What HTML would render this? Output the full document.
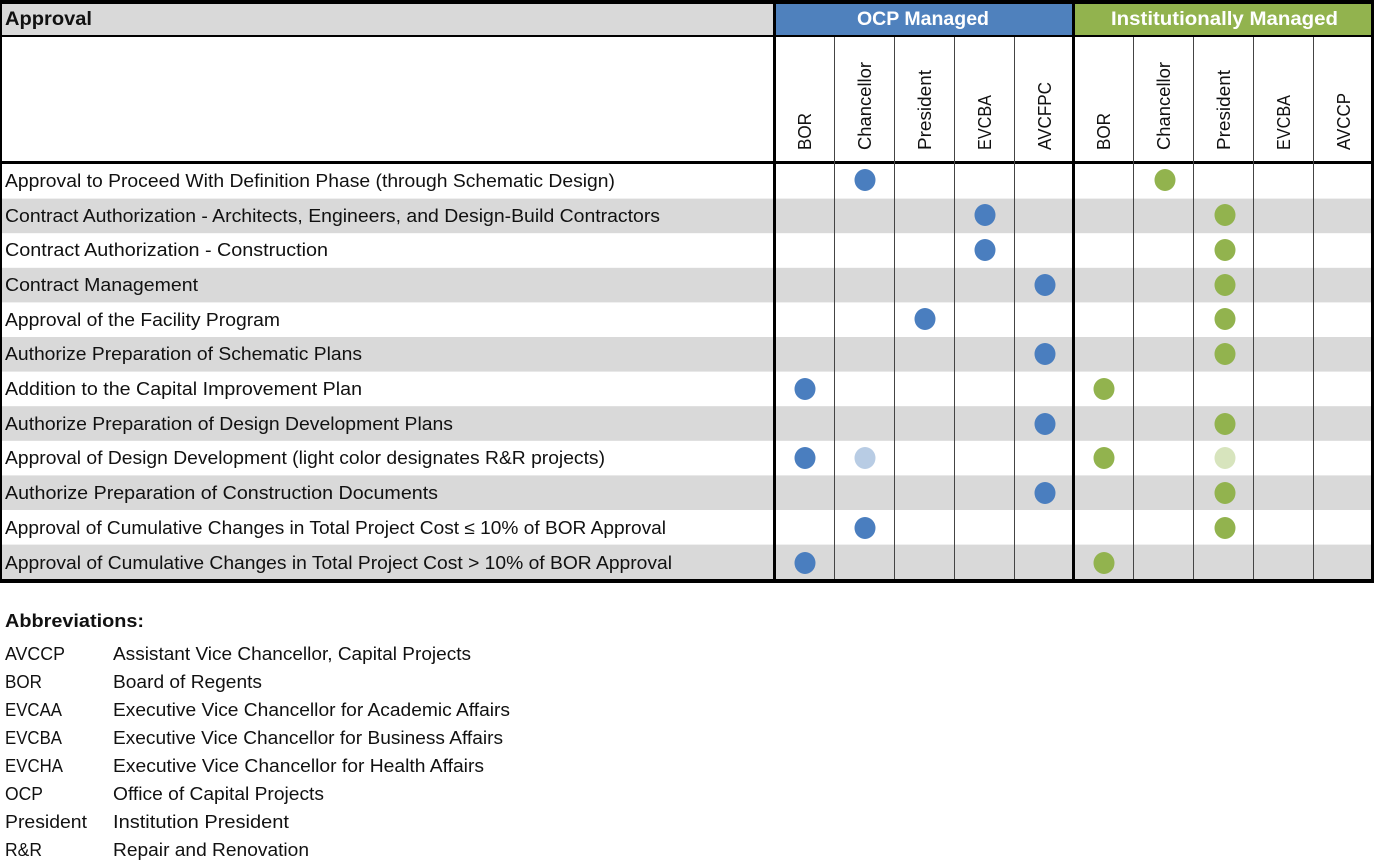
<!DOCTYPE html>
<html><head><meta charset="utf-8"><style>
html,body{margin:0;padding:0;background:#fff;}
svg{display:block;}
text{font-family:"Liberation Sans",sans-serif;fill:#111;}
</style></head><body>
<svg width="1375" height="864" viewBox="0 0 1375 864" xmlns="http://www.w3.org/2000/svg">
<rect x="0" y="0" width="1373" height="37" fill="#d9d9d9"/>
<rect x="775" y="4" width="298" height="32" fill="#4f81bd"/>
<rect x="1073" y="4" width="299" height="32" fill="#92b34e"/>
<g fill="#d9d9d9">
<rect x="1" y="198.6" width="1371" height="34.6"/>
<rect x="1" y="267.8" width="1371" height="34.6"/>
<rect x="1" y="337" width="1371" height="34.6"/>
<rect x="1" y="406.2" width="1371" height="34.6"/>
<rect x="1" y="475.4" width="1371" height="34.6"/>
<rect x="1" y="544.6" width="1371" height="34.6"/>
</g>
<rect x="0" y="0" width="1374" height="4" fill="#000"/>
<rect x="0" y="35" width="1374" height="2" fill="#000"/>
<rect x="0" y="161" width="1374" height="3" fill="#000"/>
<rect x="0" y="579" width="1374" height="4" fill="#000"/>
<rect x="0" y="0" width="2" height="583" fill="#000"/>
<rect x="1371" y="0" width="3" height="583" fill="#000"/>
<rect x="773" y="0" width="3" height="583" fill="#000"/>
<rect x="1072" y="0" width="3" height="583" fill="#000"/>
<g fill="#444">
<rect x="834" y="37" width="1" height="542"/>
<rect x="894" y="37" width="1" height="542"/>
<rect x="954" y="37" width="1" height="542"/>
<rect x="1014" y="37" width="1" height="542"/>
<rect x="1133" y="37" width="1" height="542"/>
<rect x="1193" y="37" width="1" height="542"/>
<rect x="1253" y="37" width="1" height="542"/>
<rect x="1313" y="37" width="1" height="542"/>
</g>
<text x="5" y="25" font-size="19" font-weight="bold" textLength="87" lengthAdjust="spacingAndGlyphs">Approval</text>
<text x="857" y="25" font-size="19" font-weight="bold" style="fill:#fff" textLength="132" lengthAdjust="spacingAndGlyphs">OCP Managed</text>
<text x="1111" y="25" font-size="19" font-weight="bold" style="fill:#fff" textLength="227" lengthAdjust="spacingAndGlyphs">Institutionally Managed</text>
<g font-size="18">
<text transform="translate(811,150) rotate(-90)" textLength="37" lengthAdjust="spacingAndGlyphs">BOR</text>
<text transform="translate(871,150) rotate(-90)" textLength="88" lengthAdjust="spacingAndGlyphs">Chancellor</text>
<text transform="translate(931,150) rotate(-90)" textLength="80" lengthAdjust="spacingAndGlyphs">President</text>
<text transform="translate(991,150) rotate(-90)" textLength="55" lengthAdjust="spacingAndGlyphs">EVCBA</text>
<text transform="translate(1051,150) rotate(-90)" textLength="68" lengthAdjust="spacingAndGlyphs">AVCFPC</text>
<text transform="translate(1110,150) rotate(-90)" textLength="37" lengthAdjust="spacingAndGlyphs">BOR</text>
<text transform="translate(1170,150) rotate(-90)" textLength="88" lengthAdjust="spacingAndGlyphs">Chancellor</text>
<text transform="translate(1230,150) rotate(-90)" textLength="80" lengthAdjust="spacingAndGlyphs">President</text>
<text transform="translate(1290,150) rotate(-90)" textLength="55" lengthAdjust="spacingAndGlyphs">EVCBA</text>
<text transform="translate(1350,150) rotate(-90)" textLength="57" lengthAdjust="spacingAndGlyphs">AVCCP</text>
</g>
<g font-size="18">
<text x="5" y="187" textLength="610" lengthAdjust="spacingAndGlyphs">Approval to Proceed With Definition Phase (through Schematic Design)</text>
<text x="5" y="222" textLength="655" lengthAdjust="spacingAndGlyphs">Contract Authorization - Architects, Engineers, and Design-Build Contractors</text>
<text x="5" y="256" textLength="323" lengthAdjust="spacingAndGlyphs">Contract Authorization - Construction</text>
<text x="5" y="291" textLength="193" lengthAdjust="spacingAndGlyphs">Contract Management</text>
<text x="5" y="326" textLength="275" lengthAdjust="spacingAndGlyphs">Approval of the Facility Program</text>
<text x="5" y="360" textLength="357" lengthAdjust="spacingAndGlyphs">Authorize Preparation of Schematic Plans</text>
<text x="5" y="395" textLength="357" lengthAdjust="spacingAndGlyphs">Addition to the Capital Improvement Plan</text>
<text x="5" y="430" textLength="448" lengthAdjust="spacingAndGlyphs">Authorize Preparation of Design Development Plans</text>
<text x="5" y="464" textLength="600" lengthAdjust="spacingAndGlyphs">Approval of Design Development (light color designates R&amp;R projects)</text>
<text x="5" y="499" textLength="433" lengthAdjust="spacingAndGlyphs">Authorize Preparation of Construction Documents</text>
<text x="5" y="534" textLength="661" lengthAdjust="spacingAndGlyphs">Approval of Cumulative Changes in Total Project Cost ≤ 10% of BOR Approval</text>
<text x="5" y="569" textLength="667" lengthAdjust="spacingAndGlyphs">Approval of Cumulative Changes in  Total Project Cost &gt; 10% of BOR Approval</text>
</g>
<g fill="#4a7ebf">
<ellipse cx="865" cy="180" rx="10.5" ry="11"/>
<ellipse cx="985" cy="215" rx="10.5" ry="11"/>
<ellipse cx="985" cy="250" rx="10.5" ry="11"/>
<ellipse cx="1045" cy="285" rx="10.5" ry="11"/>
<ellipse cx="925" cy="319" rx="10.5" ry="11"/>
<ellipse cx="1045" cy="354" rx="10.5" ry="11"/>
<ellipse cx="805" cy="389" rx="10.5" ry="11"/>
<ellipse cx="1045" cy="424" rx="10.5" ry="11"/>
<ellipse cx="805" cy="458" rx="10.5" ry="11"/>
<ellipse cx="1045" cy="493" rx="10.5" ry="11"/>
<ellipse cx="865" cy="528" rx="10.5" ry="11"/>
<ellipse cx="805" cy="563" rx="10.5" ry="11"/>
</g>
<ellipse cx="865" cy="458" rx="10.5" ry="11" fill="#b8cce4"/>
<g fill="#92b34e">
<ellipse cx="1165" cy="180" rx="10.5" ry="11"/>
<ellipse cx="1225" cy="215" rx="10.5" ry="11"/>
<ellipse cx="1225" cy="250" rx="10.5" ry="11"/>
<ellipse cx="1225" cy="285" rx="10.5" ry="11"/>
<ellipse cx="1225" cy="319" rx="10.5" ry="11"/>
<ellipse cx="1225" cy="354" rx="10.5" ry="11"/>
<ellipse cx="1104" cy="389" rx="10.5" ry="11"/>
<ellipse cx="1225" cy="424" rx="10.5" ry="11"/>
<ellipse cx="1104" cy="458" rx="10.5" ry="11"/>
<ellipse cx="1225" cy="493" rx="10.5" ry="11"/>
<ellipse cx="1225" cy="528" rx="10.5" ry="11"/>
<ellipse cx="1104" cy="563" rx="10.5" ry="11"/>
</g>
<ellipse cx="1225" cy="458" rx="10.5" ry="11" fill="#d7e4bd"/>
<text x="5" y="627" font-size="18" font-weight="bold" textLength="139" lengthAdjust="spacingAndGlyphs">Abbreviations:</text>
<g font-size="18">
<text x="5" y="660" textLength="60" lengthAdjust="spacingAndGlyphs">AVCCP</text><text x="113" y="660" textLength="358" lengthAdjust="spacingAndGlyphs">Assistant Vice Chancellor, Capital Projects</text>
<text x="5" y="688" textLength="37" lengthAdjust="spacingAndGlyphs">BOR</text><text x="113" y="688" textLength="149" lengthAdjust="spacingAndGlyphs">Board of Regents</text>
<text x="5" y="716" textLength="57" lengthAdjust="spacingAndGlyphs">EVCAA</text><text x="113" y="716" textLength="397" lengthAdjust="spacingAndGlyphs">Executive Vice Chancellor for Academic Affairs</text>
<text x="5" y="744" textLength="57" lengthAdjust="spacingAndGlyphs">EVCBA</text><text x="113" y="744" textLength="390" lengthAdjust="spacingAndGlyphs">Executive Vice Chancellor for Business Affairs</text>
<text x="5" y="772" textLength="58" lengthAdjust="spacingAndGlyphs">EVCHA</text><text x="113" y="772" textLength="371" lengthAdjust="spacingAndGlyphs">Executive Vice Chancellor for Health Affairs</text>
<text x="5" y="800" textLength="38" lengthAdjust="spacingAndGlyphs">OCP</text><text x="113" y="800" textLength="211" lengthAdjust="spacingAndGlyphs">Office of Capital Projects</text>
<text x="5" y="828" textLength="82" lengthAdjust="spacingAndGlyphs">President</text><text x="113" y="828" textLength="176" lengthAdjust="spacingAndGlyphs">Institution President</text>
<text x="5" y="856" textLength="37" lengthAdjust="spacingAndGlyphs">R&amp;R</text><text x="113" y="856" textLength="196" lengthAdjust="spacingAndGlyphs">Repair and Renovation</text>
</g>
</svg>
</body></html>
